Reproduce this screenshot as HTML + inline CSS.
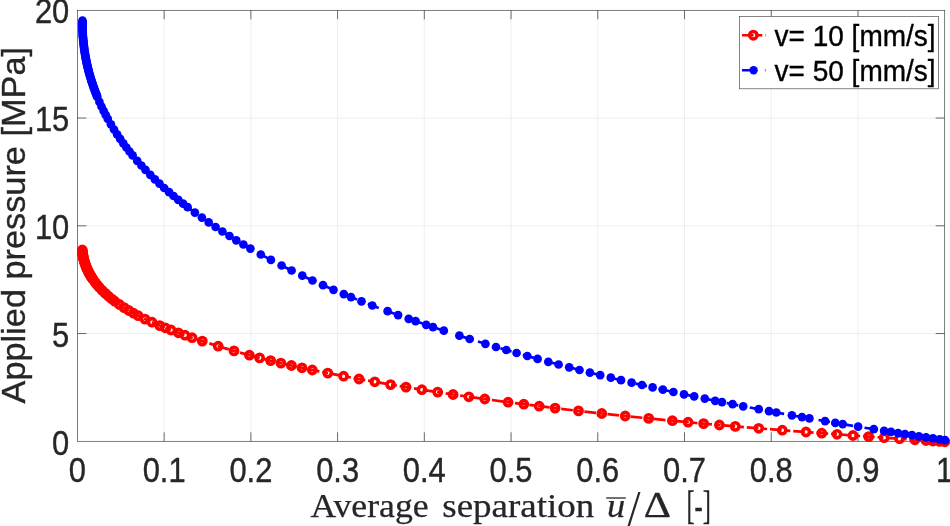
<!DOCTYPE html>
<html lang="en"><head><meta charset="utf-8"><title>Applied pressure vs average separation</title>
<style>html,body{margin:0;padding:0;background:#fff;overflow:hidden}body{width:950px;height:526px;position:relative}</style>
</head><body>
<svg width="950" height="526" viewBox="0 0 950 526" style="position:absolute;left:0;top:0">
<rect width="950" height="526" fill="#fff"/>
<path d="M164.13,10.3V441.3M250.86,10.3V441.3M337.59,10.3V441.3M424.32,10.3V441.3M511.05,10.3V441.3M597.78,10.3V441.3M684.51,10.3V441.3M771.24,10.3V441.3M857.97,10.3V441.3M77.4,118.05H944.7M77.4,225.8H944.7M77.4,333.55H944.7" stroke="#e7e7e7" stroke-width="0.67" fill="none"/>
<path d="M164.13,441.3v-9M164.13,10.3v9M250.86,441.3v-9M250.86,10.3v9M337.59,441.3v-9M337.59,10.3v9M424.32,441.3v-9M424.32,10.3v9M511.05,441.3v-9M511.05,10.3v9M597.78,441.3v-9M597.78,10.3v9M684.51,441.3v-9M684.51,10.3v9M771.24,441.3v-9M771.24,10.3v9M857.97,441.3v-9M857.97,10.3v9" stroke="#262626" stroke-width="0.67" fill="none"/>
<path d="M77.4,118.05h9M944.7,118.05h-9M77.4,225.8h9M944.7,225.8h-9M77.4,333.55h9M944.7,333.55h-9" stroke="#262626" stroke-width="0.67" fill="none"/>
<rect x="77.4" y="10.3" width="867.3" height="431" fill="none" stroke="#3c3c3c" stroke-width="0.67"/>
<path d="M82.3,250.0 L82.4,251.3 L82.5,252.6 L82.7,253.9 L82.9,255.2 L83.2,256.5 L83.4,257.8 L83.7,259.0 L84.0,260.3 L84.4,261.6 L84.8,262.8 L85.2,264.1 L85.6,265.3 L86.1,266.5 L86.6,267.7 L87.1,268.9 L87.6,270.1 L88.2,271.3 L88.8,272.5 L89.4,273.6 L90.1,274.8 L90.7,275.9 L91.4,277.0 L92.1,278.1 L92.9,279.2 L95.0,282.1 L97.1,284.7 L99.2,287.2 L102.3,290.5 L105.4,293.4 L108.5,296.2 L111.6,298.8 L114.7,301.2 L119.4,304.5 L124.1,307.6 L128.8,310.5 L133.5,313.2 L138.2,315.7 L145.0,319.1 L152.0,322.2 L159.8,325.6 L165.3,327.8 L171.0,330.0 L178.4,332.8 L185.0,335.2 L192.1,337.7 L202.3,341.1 L218.2,346.2 L234.0,350.9 L249.4,355.2 L259.6,357.9 L270.6,360.6 L280.9,363.1 L291.4,365.5 L302.0,367.8 L312.3,370.0 L327.8,373.1 L343.6,376.2 L359.0,379.0 L374.8,381.8 L390.6,384.6 L406.0,387.1 L421.9,389.7 L437.7,392.1 L453.1,394.5 L468.9,396.8 L484.8,399.0 L508.1,402.2 L523.8,404.2 L539.2,406.2 L555.1,408.1 L578.5,410.9 L601.8,413.5 L625.2,416.0 L648.7,418.4 L672.4,420.7 L688.1,422.2 L703.6,423.6 L719.4,425.0 L735.3,426.4 L758.7,428.3 L782.3,430.2 L806.0,432.0 L821.8,433.2 L837.1,434.3 L853.0,435.5 L868.7,436.6 L884.1,437.7 L899.5,438.7 L914.9,439.8 L926.0,440.5 L933.0,441.0 L939.6,441.4 L944.8,441.8" stroke="#f00" stroke-width="2.7" fill="none" stroke-dasharray="11.655 2.914 5.828 2.914" stroke-dashoffset="11.13"/>
<g fill="none" stroke="#f00" stroke-width="3.6">
<circle cx="82.3" cy="250.0" r="3.6"/>
<circle cx="82.4" cy="251.3" r="3.6"/>
<circle cx="82.5" cy="252.6" r="3.6"/>
<circle cx="82.7" cy="253.9" r="3.6"/>
<circle cx="82.9" cy="255.2" r="3.6"/>
<circle cx="83.2" cy="256.5" r="3.6"/>
<circle cx="83.4" cy="257.8" r="3.6"/>
<circle cx="83.7" cy="259.0" r="3.6"/>
<circle cx="84.0" cy="260.3" r="3.6"/>
<circle cx="84.4" cy="261.6" r="3.6"/>
<circle cx="84.8" cy="262.8" r="3.6"/>
<circle cx="85.2" cy="264.1" r="3.6"/>
<circle cx="85.6" cy="265.3" r="3.6"/>
<circle cx="86.1" cy="266.5" r="3.6"/>
<circle cx="86.6" cy="267.7" r="3.6"/>
<circle cx="87.1" cy="268.9" r="3.6"/>
<circle cx="87.6" cy="270.1" r="3.6"/>
<circle cx="88.2" cy="271.3" r="3.6"/>
<circle cx="88.8" cy="272.5" r="3.6"/>
<circle cx="89.4" cy="273.6" r="3.6"/>
<circle cx="90.1" cy="274.8" r="3.6"/>
<circle cx="90.7" cy="275.9" r="3.6"/>
<circle cx="91.4" cy="277.0" r="3.6"/>
<circle cx="92.1" cy="278.1" r="3.6"/>
<circle cx="92.9" cy="279.2" r="3.6"/>
<circle cx="95.0" cy="282.1" r="3.6"/>
<circle cx="97.1" cy="284.7" r="3.6"/>
<circle cx="99.2" cy="287.2" r="3.6"/>
<circle cx="102.3" cy="290.5" r="3.6"/>
<circle cx="105.4" cy="293.4" r="3.6"/>
<circle cx="108.5" cy="296.2" r="3.6"/>
<circle cx="111.6" cy="298.8" r="3.6"/>
<circle cx="114.7" cy="301.2" r="3.6"/>
<circle cx="119.4" cy="304.5" r="3.6"/>
<circle cx="124.1" cy="307.6" r="3.6"/>
<circle cx="128.8" cy="310.5" r="3.6"/>
<circle cx="133.5" cy="313.2" r="3.6"/>
<circle cx="138.2" cy="315.7" r="3.6"/>
<circle cx="145.0" cy="319.1" r="3.6"/>
<circle cx="152.0" cy="322.2" r="3.6"/>
<circle cx="159.8" cy="325.6" r="3.6"/>
<circle cx="165.3" cy="327.8" r="3.6"/>
<circle cx="171.0" cy="330.0" r="3.6"/>
<circle cx="178.4" cy="332.8" r="3.6"/>
<circle cx="185.0" cy="335.2" r="3.6"/>
<circle cx="192.1" cy="337.7" r="3.6"/>
<circle cx="202.3" cy="341.1" r="3.6"/>
<circle cx="218.2" cy="346.2" r="3.6"/>
<circle cx="234.0" cy="350.9" r="3.6"/>
<circle cx="249.4" cy="355.2" r="3.6"/>
<circle cx="259.6" cy="357.9" r="3.6"/>
<circle cx="270.6" cy="360.6" r="3.6"/>
<circle cx="280.9" cy="363.1" r="3.6"/>
<circle cx="291.4" cy="365.5" r="3.6"/>
<circle cx="302.0" cy="367.8" r="3.6"/>
<circle cx="312.3" cy="370.0" r="3.6"/>
<circle cx="327.8" cy="373.1" r="3.6"/>
<circle cx="343.6" cy="376.2" r="3.6"/>
<circle cx="359.0" cy="379.0" r="3.6"/>
<circle cx="374.8" cy="381.8" r="3.6"/>
<circle cx="390.6" cy="384.6" r="3.6"/>
<circle cx="406.0" cy="387.1" r="3.6"/>
<circle cx="421.9" cy="389.7" r="3.6"/>
<circle cx="437.7" cy="392.1" r="3.6"/>
<circle cx="453.1" cy="394.5" r="3.6"/>
<circle cx="468.9" cy="396.8" r="3.6"/>
<circle cx="484.8" cy="399.0" r="3.6"/>
<circle cx="508.1" cy="402.2" r="3.6"/>
<circle cx="523.8" cy="404.2" r="3.6"/>
<circle cx="539.2" cy="406.2" r="3.6"/>
<circle cx="555.1" cy="408.1" r="3.6"/>
<circle cx="578.5" cy="410.9" r="3.6"/>
<circle cx="601.8" cy="413.5" r="3.6"/>
<circle cx="625.2" cy="416.0" r="3.6"/>
<circle cx="648.7" cy="418.4" r="3.6"/>
<circle cx="672.4" cy="420.7" r="3.6"/>
<circle cx="688.1" cy="422.2" r="3.6"/>
<circle cx="703.6" cy="423.6" r="3.6"/>
<circle cx="719.4" cy="425.0" r="3.6"/>
<circle cx="735.3" cy="426.4" r="3.6"/>
<circle cx="758.7" cy="428.3" r="3.6"/>
<circle cx="782.3" cy="430.2" r="3.6"/>
<circle cx="806.0" cy="432.0" r="3.6"/>
<circle cx="821.8" cy="433.2" r="3.6"/>
<circle cx="837.1" cy="434.3" r="3.6"/>
<circle cx="853.0" cy="435.5" r="3.6"/>
<circle cx="868.7" cy="436.6" r="3.6"/>
<circle cx="884.1" cy="437.7" r="3.6"/>
<circle cx="899.5" cy="438.7" r="3.6"/>
<circle cx="914.9" cy="439.8" r="3.6"/>
<circle cx="926.0" cy="440.5" r="3.6"/>
<circle cx="933.0" cy="441.0" r="3.6"/>
<circle cx="939.6" cy="441.4" r="3.6"/>
<circle cx="944.8" cy="441.8" r="3.6"/>
</g>
<path d="M82.5,20.7 L82.5,22.0 L82.5,23.3 L82.5,24.6 L82.5,25.9 L82.5,27.2 L82.5,28.5 L82.6,29.8 L82.6,31.1 L82.7,32.4 L82.8,33.7 L82.8,35.0 L82.9,36.3 L83.0,37.6 L83.1,38.9 L83.3,40.2 L83.4,41.5 L83.5,42.8 L83.7,44.1 L83.8,45.4 L84.0,46.7 L84.1,48.0 L84.3,49.3 L84.5,50.6 L84.7,51.9 L84.9,53.1 L85.1,54.4 L85.3,55.7 L85.6,57.0 L85.8,58.3 L86.0,59.6 L86.3,60.8 L86.6,62.1 L86.8,63.4 L87.1,64.7 L87.4,65.9 L87.7,67.2 L88.0,68.5 L88.3,69.7 L88.7,71.0 L89.0,72.3 L89.3,73.5 L89.7,74.8 L90.0,76.0 L90.4,77.3 L90.8,78.5 L91.2,79.8 L91.5,81.0 L91.9,82.3 L92.4,83.5 L92.8,84.7 L93.2,86.0 L93.6,87.2 L94.1,88.4 L94.5,89.6 L95.0,90.9 L95.4,92.1 L95.9,93.3 L96.4,94.5 L96.8,95.7 L97.3,96.9 L99.4,101.9 L101.5,106.5 L103.6,110.8 L105.7,114.9 L107.8,118.9 L110.9,124.3 L114.0,129.5 L117.1,134.3 L120.2,138.9 L123.3,143.3 L126.4,147.5 L129.5,151.5 L132.6,155.4 L137.2,160.8 L141.4,165.5 L145.5,169.9 L150.3,174.8 L154.9,179.4 L159.5,183.7 L164.2,188.0 L169.1,192.2 L173.6,196.0 L178.3,199.9 L183.1,203.7 L187.6,207.2 L194.9,212.6 L201.9,217.6 L208.7,222.4 L215.6,227.0 L222.4,231.5 L229.5,236.0 L236.3,240.3 L243.4,244.5 L250.4,248.6 L260.8,254.5 L270.9,259.9 L281.6,265.5 L291.6,270.5 L302.3,275.7 L312.5,280.5 L323.0,285.2 L333.5,289.8 L343.8,294.1 L351.0,297.1 L361.5,301.3 L372.3,305.5 L387.6,311.2 L398.1,315.1 L408.7,318.8 L415.6,321.2 L426.2,324.8 L433.0,327.1 L443.8,330.7 L459.4,335.7 L469.7,339.0 L485.4,343.8 L496.0,347.0 L506.3,350.0 L516.6,353.0 L527.3,356.0 L537.6,358.9 L548.3,361.8 L558.6,364.5 L569.2,367.3 L579.5,370.0 L589.9,372.6 L600.2,375.1 L610.8,377.7 L621.0,380.2 L631.6,382.7 L642.0,385.0 L652.6,387.4 L662.9,389.7 L673.4,392.0 L684.0,394.3 L694.2,396.4 L704.8,398.6 L715.2,400.8 L722.0,402.1 L732.6,404.2 L743.2,406.3 L758.7,409.2 L769.0,411.2 L776.3,412.5 L791.9,415.3 L802.0,417.1 L809.4,418.4 L825.1,421.1 L835.3,422.9 L842.7,424.1 L858.1,426.7 L873.8,429.2 L884.1,430.9 L891.0,431.9 L898.1,433.1 L905.0,434.1 L912.0,435.2 L918.9,436.3 L926.0,437.4 L933.0,438.4 L939.8,439.4 L945.0,440.2" stroke="#00f" stroke-width="2.7" fill="none" stroke-dasharray="11.655 11.655" stroke-dashoffset="15.27"/>
<g fill="#00f">
<circle cx="82.5" cy="20.7" r="4.35"/>
<circle cx="82.5" cy="22.0" r="4.35"/>
<circle cx="82.5" cy="23.3" r="4.35"/>
<circle cx="82.5" cy="24.6" r="4.35"/>
<circle cx="82.5" cy="25.9" r="4.35"/>
<circle cx="82.5" cy="27.2" r="4.35"/>
<circle cx="82.5" cy="28.5" r="4.35"/>
<circle cx="82.6" cy="29.8" r="4.35"/>
<circle cx="82.6" cy="31.1" r="4.35"/>
<circle cx="82.7" cy="32.4" r="4.35"/>
<circle cx="82.8" cy="33.7" r="4.35"/>
<circle cx="82.8" cy="35.0" r="4.35"/>
<circle cx="82.9" cy="36.3" r="4.35"/>
<circle cx="83.0" cy="37.6" r="4.35"/>
<circle cx="83.1" cy="38.9" r="4.35"/>
<circle cx="83.3" cy="40.2" r="4.35"/>
<circle cx="83.4" cy="41.5" r="4.35"/>
<circle cx="83.5" cy="42.8" r="4.35"/>
<circle cx="83.7" cy="44.1" r="4.35"/>
<circle cx="83.8" cy="45.4" r="4.35"/>
<circle cx="84.0" cy="46.7" r="4.35"/>
<circle cx="84.1" cy="48.0" r="4.35"/>
<circle cx="84.3" cy="49.3" r="4.35"/>
<circle cx="84.5" cy="50.6" r="4.35"/>
<circle cx="84.7" cy="51.9" r="4.35"/>
<circle cx="84.9" cy="53.1" r="4.35"/>
<circle cx="85.1" cy="54.4" r="4.35"/>
<circle cx="85.3" cy="55.7" r="4.35"/>
<circle cx="85.6" cy="57.0" r="4.35"/>
<circle cx="85.8" cy="58.3" r="4.35"/>
<circle cx="86.0" cy="59.6" r="4.35"/>
<circle cx="86.3" cy="60.8" r="4.35"/>
<circle cx="86.6" cy="62.1" r="4.35"/>
<circle cx="86.8" cy="63.4" r="4.35"/>
<circle cx="87.1" cy="64.7" r="4.35"/>
<circle cx="87.4" cy="65.9" r="4.35"/>
<circle cx="87.7" cy="67.2" r="4.35"/>
<circle cx="88.0" cy="68.5" r="4.35"/>
<circle cx="88.3" cy="69.7" r="4.35"/>
<circle cx="88.7" cy="71.0" r="4.35"/>
<circle cx="89.0" cy="72.3" r="4.35"/>
<circle cx="89.3" cy="73.5" r="4.35"/>
<circle cx="89.7" cy="74.8" r="4.35"/>
<circle cx="90.0" cy="76.0" r="4.35"/>
<circle cx="90.4" cy="77.3" r="4.35"/>
<circle cx="90.8" cy="78.5" r="4.35"/>
<circle cx="91.2" cy="79.8" r="4.35"/>
<circle cx="91.5" cy="81.0" r="4.35"/>
<circle cx="91.9" cy="82.3" r="4.35"/>
<circle cx="92.4" cy="83.5" r="4.35"/>
<circle cx="92.8" cy="84.7" r="4.35"/>
<circle cx="93.2" cy="86.0" r="4.35"/>
<circle cx="93.6" cy="87.2" r="4.35"/>
<circle cx="94.1" cy="88.4" r="4.35"/>
<circle cx="94.5" cy="89.6" r="4.35"/>
<circle cx="95.0" cy="90.9" r="4.35"/>
<circle cx="95.4" cy="92.1" r="4.35"/>
<circle cx="95.9" cy="93.3" r="4.35"/>
<circle cx="96.4" cy="94.5" r="4.35"/>
<circle cx="96.8" cy="95.7" r="4.35"/>
<circle cx="97.3" cy="96.9" r="4.35"/>
<circle cx="99.4" cy="101.9" r="4.35"/>
<circle cx="101.5" cy="106.5" r="4.35"/>
<circle cx="103.6" cy="110.8" r="4.35"/>
<circle cx="105.7" cy="114.9" r="4.35"/>
<circle cx="107.8" cy="118.9" r="4.35"/>
<circle cx="110.9" cy="124.3" r="4.35"/>
<circle cx="114.0" cy="129.5" r="4.35"/>
<circle cx="117.1" cy="134.3" r="4.35"/>
<circle cx="120.2" cy="138.9" r="4.35"/>
<circle cx="123.3" cy="143.3" r="4.35"/>
<circle cx="126.4" cy="147.5" r="4.35"/>
<circle cx="129.5" cy="151.5" r="4.35"/>
<circle cx="132.6" cy="155.4" r="4.35"/>
<circle cx="137.2" cy="160.8" r="4.35"/>
<circle cx="141.4" cy="165.5" r="4.35"/>
<circle cx="145.5" cy="169.9" r="4.35"/>
<circle cx="150.3" cy="174.8" r="4.35"/>
<circle cx="154.9" cy="179.4" r="4.35"/>
<circle cx="159.5" cy="183.7" r="4.35"/>
<circle cx="164.2" cy="188.0" r="4.35"/>
<circle cx="169.1" cy="192.2" r="4.35"/>
<circle cx="173.6" cy="196.0" r="4.35"/>
<circle cx="178.3" cy="199.9" r="4.35"/>
<circle cx="183.1" cy="203.7" r="4.35"/>
<circle cx="187.6" cy="207.2" r="4.35"/>
<circle cx="194.9" cy="212.6" r="4.35"/>
<circle cx="201.9" cy="217.6" r="4.35"/>
<circle cx="208.7" cy="222.4" r="4.35"/>
<circle cx="215.6" cy="227.0" r="4.35"/>
<circle cx="222.4" cy="231.5" r="4.35"/>
<circle cx="229.5" cy="236.0" r="4.35"/>
<circle cx="236.3" cy="240.3" r="4.35"/>
<circle cx="243.4" cy="244.5" r="4.35"/>
<circle cx="250.4" cy="248.6" r="4.35"/>
<circle cx="260.8" cy="254.5" r="4.35"/>
<circle cx="270.9" cy="259.9" r="4.35"/>
<circle cx="281.6" cy="265.5" r="4.35"/>
<circle cx="291.6" cy="270.5" r="4.35"/>
<circle cx="302.3" cy="275.7" r="4.35"/>
<circle cx="312.5" cy="280.5" r="4.35"/>
<circle cx="323.0" cy="285.2" r="4.35"/>
<circle cx="333.5" cy="289.8" r="4.35"/>
<circle cx="343.8" cy="294.1" r="4.35"/>
<circle cx="351.0" cy="297.1" r="4.35"/>
<circle cx="361.5" cy="301.3" r="4.35"/>
<circle cx="372.3" cy="305.5" r="4.35"/>
<circle cx="387.6" cy="311.2" r="4.35"/>
<circle cx="398.1" cy="315.1" r="4.35"/>
<circle cx="408.7" cy="318.8" r="4.35"/>
<circle cx="415.6" cy="321.2" r="4.35"/>
<circle cx="426.2" cy="324.8" r="4.35"/>
<circle cx="433.0" cy="327.1" r="4.35"/>
<circle cx="443.8" cy="330.7" r="4.35"/>
<circle cx="459.4" cy="335.7" r="4.35"/>
<circle cx="469.7" cy="339.0" r="4.35"/>
<circle cx="485.4" cy="343.8" r="4.35"/>
<circle cx="496.0" cy="347.0" r="4.35"/>
<circle cx="506.3" cy="350.0" r="4.35"/>
<circle cx="516.6" cy="353.0" r="4.35"/>
<circle cx="527.3" cy="356.0" r="4.35"/>
<circle cx="537.6" cy="358.9" r="4.35"/>
<circle cx="548.3" cy="361.8" r="4.35"/>
<circle cx="558.6" cy="364.5" r="4.35"/>
<circle cx="569.2" cy="367.3" r="4.35"/>
<circle cx="579.5" cy="370.0" r="4.35"/>
<circle cx="589.9" cy="372.6" r="4.35"/>
<circle cx="600.2" cy="375.1" r="4.35"/>
<circle cx="610.8" cy="377.7" r="4.35"/>
<circle cx="621.0" cy="380.2" r="4.35"/>
<circle cx="631.6" cy="382.7" r="4.35"/>
<circle cx="642.0" cy="385.0" r="4.35"/>
<circle cx="652.6" cy="387.4" r="4.35"/>
<circle cx="662.9" cy="389.7" r="4.35"/>
<circle cx="673.4" cy="392.0" r="4.35"/>
<circle cx="684.0" cy="394.3" r="4.35"/>
<circle cx="694.2" cy="396.4" r="4.35"/>
<circle cx="704.8" cy="398.6" r="4.35"/>
<circle cx="715.2" cy="400.8" r="4.35"/>
<circle cx="722.0" cy="402.1" r="4.35"/>
<circle cx="732.6" cy="404.2" r="4.35"/>
<circle cx="743.2" cy="406.3" r="4.35"/>
<circle cx="758.7" cy="409.2" r="4.35"/>
<circle cx="769.0" cy="411.2" r="4.35"/>
<circle cx="776.3" cy="412.5" r="4.35"/>
<circle cx="791.9" cy="415.3" r="4.35"/>
<circle cx="802.0" cy="417.1" r="4.35"/>
<circle cx="809.4" cy="418.4" r="4.35"/>
<circle cx="825.1" cy="421.1" r="4.35"/>
<circle cx="835.3" cy="422.9" r="4.35"/>
<circle cx="842.7" cy="424.1" r="4.35"/>
<circle cx="858.1" cy="426.7" r="4.35"/>
<circle cx="873.8" cy="429.2" r="4.35"/>
<circle cx="884.1" cy="430.9" r="4.35"/>
<circle cx="891.0" cy="431.9" r="4.35"/>
<circle cx="898.1" cy="433.1" r="4.35"/>
<circle cx="905.0" cy="434.1" r="4.35"/>
<circle cx="912.0" cy="435.2" r="4.35"/>
<circle cx="918.9" cy="436.3" r="4.35"/>
<circle cx="926.0" cy="437.4" r="4.35"/>
<circle cx="933.0" cy="438.4" r="4.35"/>
<circle cx="939.8" cy="439.4" r="4.35"/>
<circle cx="945.0" cy="440.2" r="4.35"/>
</g>
<rect x="739.5" y="16.5" width="199" height="72.3" fill="#fff" stroke="#4a4a4a" stroke-width="0.67"/>
<path d="M742,35.2H765.7" stroke="#f00" stroke-width="2.6" stroke-dasharray="11.6 2.9 5.8 2.9" fill="none"/>
<circle cx="753.3" cy="35.2" r="3.7" fill="none" stroke="#f00" stroke-width="3.5"/>
<path d="M742,70.2H765.7" stroke="#00f" stroke-width="2.6" stroke-dasharray="11.6 11.6" fill="none"/>
<circle cx="753.6" cy="70.2" r="4.2" fill="#00f"/>
<g font-family="Liberation Sans, Arial, Helvetica, sans-serif" fill="#262626" stroke="#262626" stroke-width="0.35">
<text transform="translate(774.6,46.3) scale(1,1.03)" font-size="28.0" text-anchor="start" fill="#000" stroke="#000">v= 10 [mm/s]</text>
<text transform="translate(774.6,81.4) scale(1,1.03)" font-size="28.0" text-anchor="start" fill="#000" stroke="#000">v= 50 [mm/s]</text>
<text transform="translate(69.3,23.4) scale(1,1.11)" font-size="30.9" text-anchor="end">20</text>
<text transform="translate(69.3,131.15) scale(1,1.11)" font-size="30.9" text-anchor="end">15</text>
<text transform="translate(69.3,238.9) scale(1,1.11)" font-size="30.9" text-anchor="end">10</text>
<text transform="translate(69.3,346.65) scale(1,1.11)" font-size="30.9" text-anchor="end">5</text>
<text transform="translate(69.3,455.2) scale(1,1.11)" font-size="30.9" text-anchor="end">0</text>
<text transform="translate(77.4,481.8) scale(1,1.11)" font-size="30.9" text-anchor="middle">0</text>
<text transform="translate(164.13,481.8) scale(1,1.11)" font-size="30.9" text-anchor="middle">0.1</text>
<text transform="translate(250.86,481.8) scale(1,1.11)" font-size="30.9" text-anchor="middle">0.2</text>
<text transform="translate(337.59,481.8) scale(1,1.11)" font-size="30.9" text-anchor="middle">0.3</text>
<text transform="translate(424.32,481.8) scale(1,1.11)" font-size="30.9" text-anchor="middle">0.4</text>
<text transform="translate(511.05,481.8) scale(1,1.11)" font-size="30.9" text-anchor="middle">0.5</text>
<text transform="translate(597.78,481.8) scale(1,1.11)" font-size="30.9" text-anchor="middle">0.6</text>
<text transform="translate(684.51,481.8) scale(1,1.11)" font-size="30.9" text-anchor="middle">0.7</text>
<text transform="translate(771.24,481.8) scale(1,1.11)" font-size="30.9" text-anchor="middle">0.8</text>
<text transform="translate(857.97,481.8) scale(1,1.11)" font-size="30.9" text-anchor="middle">0.9</text>
<text transform="translate(944.7,481.8) scale(1,1.11)" font-size="30.9" text-anchor="middle">1</text>
<text font-size="33.6" transform="translate(24.7,403.4) rotate(-90) scale(1.021,1)">Applied pressure [MPa]</text>
</g>
<g font-family="Liberation Serif, Times New Roman, serif" fill="#262626" stroke="#262626" stroke-width="0.25" font-size="33.6">
<text x="310.4" y="517.0" textLength="118.2" lengthAdjust="spacingAndGlyphs">Average</text>
<text x="442.3" y="517.0" textLength="152" lengthAdjust="spacingAndGlyphs">separation</text>
<text x="607" y="517.0" textLength="18.2" lengthAdjust="spacingAndGlyphs" font-style="italic">u</text>
<text transform="translate(627.6,525.2) scale(1.42,1.52)" font-size="33" stroke="none">/</text>
<text transform="translate(643.8,517.0) scale(1.26,1.08)" font-size="33.6">Δ</text>
<text transform="translate(686.4,518.8) scale(1,1.13)" font-size="35" textLength="24.4" lengthAdjust="spacingAndGlyphs">[-]</text>
</g>
<path d="M606.2,498H625.8" stroke="#262626" stroke-width="1.3" fill="none"/>
</svg>
</body></html>
